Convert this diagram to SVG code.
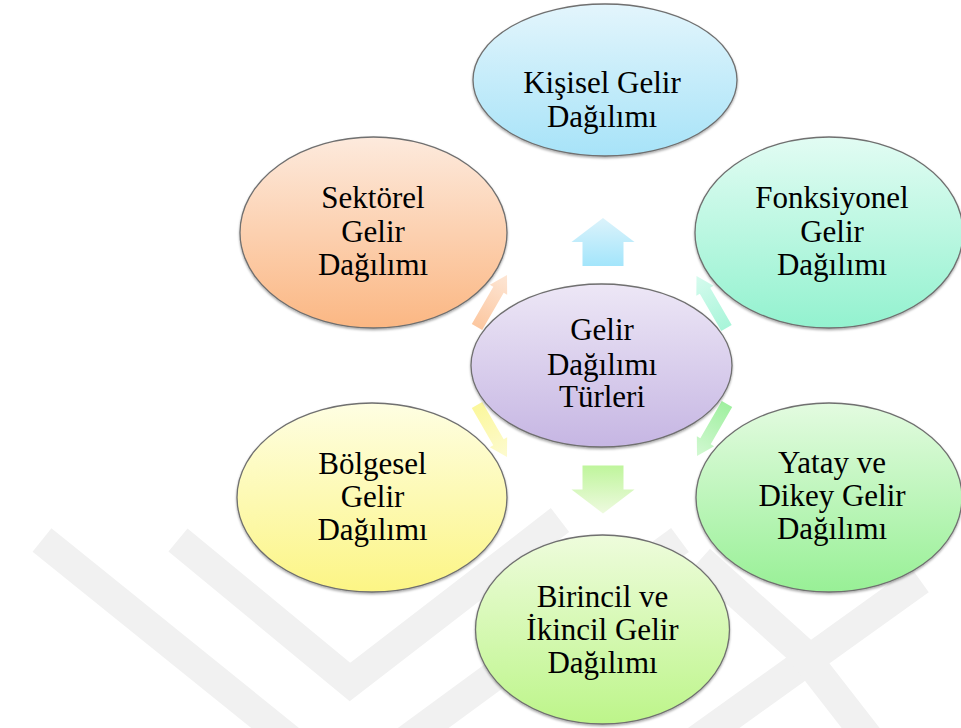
<svg xmlns="http://www.w3.org/2000/svg" width="961" height="728" viewBox="0 0 961 728">
<style>
.node ellipse{stroke:#6f6f6f;stroke-width:1.3;filter:url(#sh)}
.node text{font-family:"Liberation Serif","DejaVu Serif",serif;font-size:31px;fill:#000;text-anchor:middle}
.wm{fill:none;stroke:#f1f1f1;stroke-width:30;stroke-linejoin:miter}
</style>
<defs>
<filter id="sh" x="-10%" y="-10%" width="120%" height="125%">
<feDropShadow dx="0" dy="1.5" stdDeviation="1.2" flood-color="#000" flood-opacity="0.35"/>
</filter>
<linearGradient id="gBlue" x1="0" y1="0" x2="0" y2="1"><stop offset="0" stop-color="#e3f5fc"/><stop offset="1" stop-color="#a7e3f8"/></linearGradient>
<linearGradient id="gPeach" x1="0" y1="0" x2="0" y2="1"><stop offset="0" stop-color="#fdeadd"/><stop offset="1" stop-color="#fbb783"/></linearGradient>
<linearGradient id="gAqua" x1="0" y1="0" x2="0" y2="1"><stop offset="0" stop-color="#e2fcf3"/><stop offset="1" stop-color="#93f2cf"/></linearGradient>
<linearGradient id="gLav" x1="0" y1="0" x2="0" y2="1"><stop offset="0" stop-color="#ede7f6"/><stop offset="1" stop-color="#c6b6e3"/></linearGradient>
<linearGradient id="gGreen" x1="0" y1="0" x2="0" y2="1"><stop offset="0" stop-color="#e3fbe0"/><stop offset="1" stop-color="#98f096"/></linearGradient>
<linearGradient id="gLime" x1="0" y1="0" x2="0" y2="1"><stop offset="0" stop-color="#eefcdc"/><stop offset="1" stop-color="#bdf58a"/></linearGradient>
<linearGradient id="gYellow" x1="0" y1="0" x2="0" y2="1"><stop offset="0" stop-color="#fefee2"/><stop offset="1" stop-color="#fcf585"/></linearGradient>
<linearGradient id="aBlue" x1="0" y1="0" x2="0" y2="1"><stop offset="0" stop-color="#dcf3fb"/><stop offset="1" stop-color="#a3e5fb"/></linearGradient>
<linearGradient id="aLime" x1="0" y1="0" x2="0" y2="1"><stop offset="0" stop-color="#eefadf"/><stop offset="1" stop-color="#bff59c"/></linearGradient>
<linearGradient id="aPeach" x1="0" y1="0" x2="0" y2="1"><stop offset="0" stop-color="#fde6d5"/><stop offset="1" stop-color="#fcc7a0"/></linearGradient>
<linearGradient id="aAqua" x1="0" y1="0" x2="0" y2="1"><stop offset="0" stop-color="#d6fbee"/><stop offset="1" stop-color="#a8f5d9"/></linearGradient>
<linearGradient id="aGreen" x1="0" y1="0" x2="0" y2="1"><stop offset="0" stop-color="#d2f8d2"/><stop offset="1" stop-color="#a0f0a0"/></linearGradient>
<linearGradient id="aYellow" x1="0" y1="0" x2="0" y2="1"><stop offset="0" stop-color="#fdfbd0"/><stop offset="1" stop-color="#fbf79c"/></linearGradient>
<path id="arr" d="M0,-24 L31.5,0 L20.5,0 L20.5,24 L-20.5,24 L-20.5,0 L-31.5,0 Z"/>
<path id="sarr" d="M0,-30 L10,-13 L6,-13 L6,30 L-6,30 L-6,-13 L-10,-13 Z"/>
</defs>
<rect width="961" height="728" fill="#ffffff"/>
<g id="watermark">
<polyline class="wm" points="42,540 290,740"/>
<polyline class="wm" points="178,540 350,682 560,520"/>
<polyline class="wm" points="400,745 680,540"/>
<polyline class="wm" points="690,745 920,580"/>
<polyline class="wm" points="700,560 800,650 870,740"/>
</g>
<g id="connectors">
<use href="#arr" fill="url(#aBlue)" transform="translate(603,242)"/>
<use href="#arr" fill="url(#aLime)" transform="translate(603,489.5) rotate(180)"/>
<use href="#sarr" fill="url(#aPeach)" transform="translate(492,301) rotate(30)"/>
<use href="#sarr" fill="url(#aAqua)" transform="translate(711.5,302) rotate(-30)"/>
<use href="#sarr" fill="url(#aGreen)" transform="translate(712,430) rotate(-150)"/>
<use href="#sarr" fill="url(#aYellow)" transform="translate(492,431) rotate(150)"/>
</g>
<g id="node-kisisel" class="node" font-family="Liberation Serif, DejaVu Serif, serif">
<ellipse cx="605" cy="80" rx="132" ry="76" fill="url(#gBlue)"/>
<text x="602" y="93">Kişisel Gelir</text>
<text x="602" y="127">Dağılımı</text>
</g>
<g id="node-sektorel" class="node">
<ellipse cx="373.5" cy="232.5" rx="133.5" ry="95.5" fill="url(#gPeach)"/>
<text x="373" y="208">Sektörel</text>
<text x="373" y="242">Gelir</text>
<text x="373" y="275">Dağılımı</text>
</g>
<g id="node-fonksiyonel" class="node">
<ellipse cx="829" cy="232.5" rx="134" ry="95.5" fill="url(#gAqua)"/>
<text x="832" y="208">Fonksiyonel</text>
<text x="832" y="242">Gelir</text>
<text x="832" y="275">Dağılımı</text>
</g>
<g id="node-bolgesel" class="node">
<ellipse cx="372" cy="497.5" rx="135" ry="94.5" fill="url(#gYellow)"/>
<text x="372.5" y="474">Bölgesel</text>
<text x="372.5" y="507">Gelir</text>
<text x="372.5" y="540">Dağılımı</text>
</g>
<g id="node-yatay" class="node">
<ellipse cx="829" cy="497.5" rx="133" ry="94.5" fill="url(#gGreen)"/>
<text x="832" y="473">Yatay ve</text>
<text x="832" y="506">Dikey Gelir</text>
<text x="832" y="539">Dağılımı</text>
</g>
<g id="node-birincil" class="node">
<ellipse cx="602.5" cy="629.5" rx="127" ry="94.5" fill="url(#gLime)"/>
<text x="602.5" y="607">Birincil ve</text>
<text x="602.5" y="640">İkincil Gelir</text>
<text x="602.5" y="673">Dağılımı</text>
</g>
<g id="node-center" class="node">
<ellipse cx="601.5" cy="365.5" rx="130.5" ry="81.5" fill="url(#gLav)"/>
<text x="602" y="340">Gelir</text>
<text x="602" y="375">Dağılımı</text>
<text x="602" y="407">Türleri</text>
</g>
</svg>
